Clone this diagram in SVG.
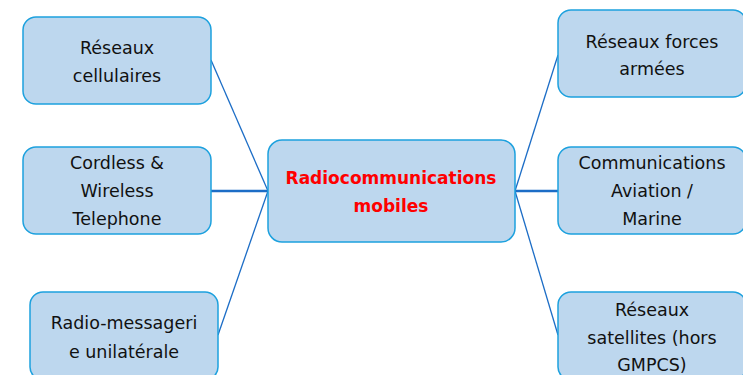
<svg xmlns="http://www.w3.org/2000/svg" width="743" height="375" viewBox="0 0 743 375">
<style>
.box{fill:#BDD7EE;stroke:#1DA1DE;stroke-width:1.5}
.t{font-family:"DejaVu Sans","Liberation Sans",sans-serif;font-size:17.5px;fill:#111;text-anchor:middle}
.c{font-family:"DejaVu Sans","Liberation Sans",sans-serif;font-size:17px;font-weight:bold;fill:#FF0000;text-anchor:middle}
.l{stroke:#1C6DC6;stroke-width:1.3;fill:none}
.h{stroke:#1C6DC6;stroke-width:2.5;fill:none}
</style>
<rect width="743" height="375" fill="#fff"/>
<g id="connectors">
<line class="l" x1="268" y1="191" x2="211" y2="60"/>
<line class="h" x1="268" y1="191" x2="211" y2="191"/>
<line class="l" x1="268" y1="191" x2="218" y2="335"/>
<line class="l" x1="515" y1="191" x2="558" y2="55"/>
<line class="h" x1="515" y1="191" x2="558" y2="191"/>
<line class="l" x1="515" y1="191" x2="558" y2="335"/>
</g>
<g id="center">
<rect class="box" x="268" y="140" width="247" height="102" rx="14"/>
<text class="c" x="391" y="184">Radiocommunications</text>
<text class="c" x="391" y="212">mobiles</text>
</g>
<g id="n1">
<rect class="box" x="23" y="17" width="188" height="87" rx="13"/>
<text class="t" x="117" y="54">Réseaux</text>
<text class="t" x="117" y="82">cellulaires</text>
</g>
<g id="n2">
<rect class="box" x="23" y="147" width="188" height="87" rx="13"/>
<text class="t" x="117" y="169">Cordless &amp;</text>
<text class="t" x="117" y="197">Wireless</text>
<text class="t" x="117" y="225">Telephone</text>
</g>
<g id="n3">
<rect class="box" x="30" y="292" width="188" height="88" rx="13"/>
<text class="t" x="124" y="329">Radio-messageri</text>
<text class="t" x="124" y="358">e unilatérale</text>
</g>
<g id="n4">
<rect class="box" x="558" y="10" width="188" height="87" rx="13"/>
<text class="t" x="652" y="48">Réseaux forces</text>
<text class="t" x="652" y="75">armées</text>
</g>
<g id="n5">
<rect class="box" x="558" y="147" width="188" height="87" rx="13"/>
<text class="t" x="652" y="169">Communications</text>
<text class="t" x="652" y="197">Aviation /</text>
<text class="t" x="652" y="225">Marine</text>
</g>
<g id="n6">
<rect class="box" x="558" y="292" width="188" height="88" rx="13"/>
<text class="t" x="652" y="316">Réseaux</text>
<text class="t" x="652" y="344">satellites (hors</text>
<text class="t" x="652" y="371">GMPCS)</text>
</g>
</svg>
